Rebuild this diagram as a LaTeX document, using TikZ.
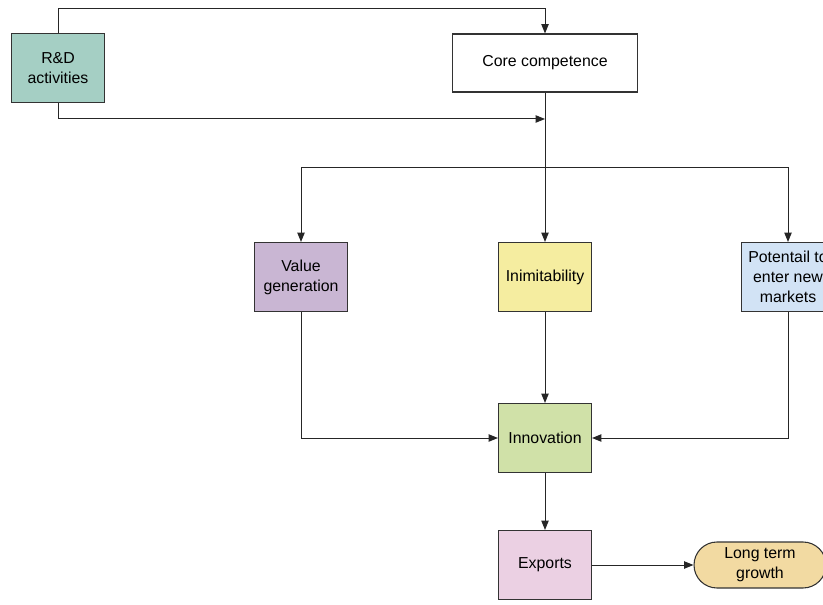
\documentclass[tikz,border=0pt]{standalone}
\usepackage{fontspec}
\setmainfont{Liberation Sans}
\usetikzlibrary{arrows.meta,shapes.misc}
\definecolor{rdcol}{HTML}{A5CFC4}
\definecolor{valcol}{HTML}{C9B6D3}
\definecolor{inicol}{HTML}{F5EDA0}
\definecolor{potcol}{HTML}{D2E3F5}
\definecolor{inncol}{HTML}{D0E1A8}
\definecolor{expcol}{HTML}{EBD0E3}
\definecolor{grocol}{HTML}{F2DAA2}
\begin{document}
\begin{tikzpicture}[x=0.75pt, y=-0.75pt,
    box/.style={draw=black!80, line width=0.8pt, minimum width=69.75pt, minimum height=51.75pt,
      align=center, inner sep=0pt, font=\fontsize{11.9}{15}\selectfont},
    flow/.style={draw=black!85, line width=0.75pt, -{Triangle[length=7pt, width=5.5pt]}}]
  \useasboundingbox (0,0) rectangle (823,605);
  \clip (0,0) rectangle (823,605);
  \node[box, fill=rdcol] (rd) at (58,68) {R\&D\\activities};
  \node[box, minimum width=138.75pt, minimum height=43.5pt] (core) at (545,63) {Core competence};
  \node[box, fill=valcol] (value) at (301,277) {Value\\generation};
  \node[box, fill=inicol] (inim) at (545,277) {Inimitability};
  \node[box, fill=potcol] (pot) at (788,277) {Potentail to\\enter new\\markets};
  \node[box, fill=inncol] (innov) at (545,438) {Innovation};
  \node[box, fill=expcol] (exp) at (545,565) {Exports};
  \node[box, rounded rectangle, fill=grocol, minimum width=99pt, minimum height=34.5pt] (growth) at (760,565) {Long term\\growth};
  \coordinate (join) at (545,119);
  \coordinate (split) at (545,168);
  \draw[flow] (rd.north) -- ++(0,-24) -| (core.north);
  \draw[flow] (rd.south) |- (join);
  \draw[flow] (core.south) -- (inim.north);
  \draw[flow] (split) -| (value.north);
  \draw[flow] (split) -| (pot.north);
  \draw[flow] (value.south) |- (innov.west);
  \draw[flow] (pot.south) |- (innov.east);
  \draw[flow] (inim.south) -- (innov.north);
  \draw[flow] (innov.south) -- (exp.north);
  \draw[flow] (exp.east) -- (growth.west);
\end{tikzpicture}
\end{document}
